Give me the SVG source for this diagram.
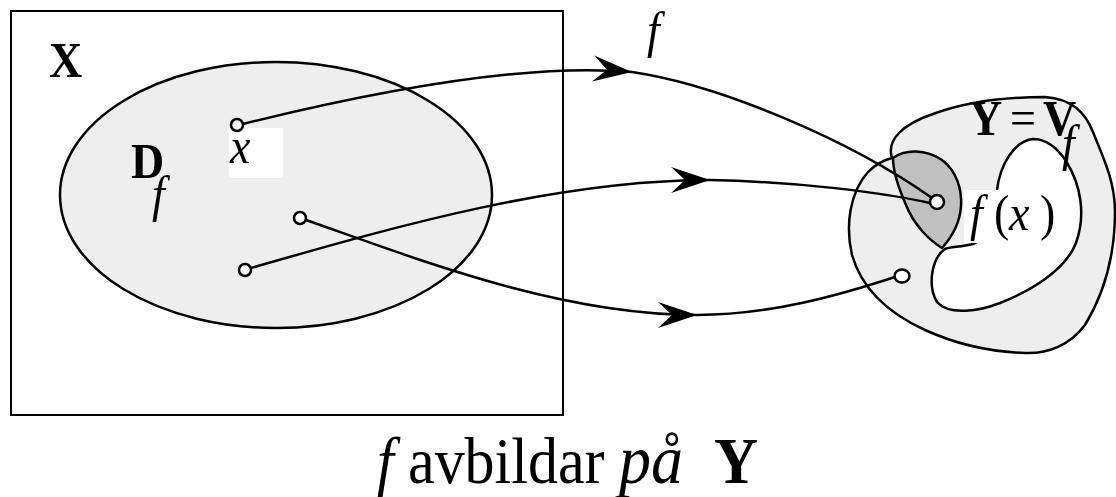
<svg xmlns="http://www.w3.org/2000/svg" width="1116" height="497" viewBox="0 0 1116 497">
<style>
.ln{fill:none;stroke:#000;stroke-width:2.5}
.pt{fill:#fff;stroke:#000;stroke-width:2.5}
.bd{font-family:"Liberation Serif",serif;font-weight:bold;font-size:46px}
.it{font-family:"Liberation Serif",serif;font-style:italic;font-size:46px}
.rm{font-family:"Liberation Serif",serif;font-size:46px}
.big{font-family:"Liberation Serif",serif;font-size:60px}
</style>
<defs>
<marker id="arr" markerUnits="userSpaceOnUse" markerWidth="50" markerHeight="30" refX="40" refY="15" orient="auto" viewBox="0 0 50 30">
<path d="M40,15 L1,2 L15,15 L1,28 Z" fill="#000"/>
</marker>
</defs>
<rect width="1116" height="497" fill="#fff"/>
<g id="setX">
<rect x="11" y="11" width="552" height="404" fill="none" stroke="#000" stroke-width="2"/>
<text class="bd" transform="translate(49,77) scale(1,1.1)">X</text>
</g>
<g id="domain">
<ellipse cx="276" cy="195" rx="216" ry="133" fill="#eeeeee" stroke="#000" stroke-width="2.5"/>
<text class="bd" transform="translate(131,178) scale(1,1.1)">D</text>
<text class="it" transform="translate(152,211) scale(1,1.1)">f</text>
<rect x="229" y="128" width="54" height="50" fill="#fff"/>
<text class="it" transform="translate(230,163) scale(1,1.1)">x</text>
</g>
<g id="setY">
<path d="M892,158 C 886,140 903,124 933,114 C 960,104 1000,97 1045,97 C 1072,99 1085,112 1093,132 C 1102,155 1115,180 1115,212 C 1115,252 1105,292 1085,325 C 1070,345 1048,354 1025,353 C 995,352 958,345 925,330 C 890,314 862,290 852,255 C 845,225 850,192 868,172 C 876,164 884,160 892,158 Z" fill="#eeeeee" stroke="#000" stroke-width="2.5"/>
<path d="M893,158 C 905,149 926,149 942,160 C 957,171 962,190 961,206 C 960,223 951,238 942,248 C 929,240 914,225 906,205 C 899,189 893,170 893,158 Z" fill="#c0c0c0" stroke="#000" stroke-width="2.5"/>
<path d="M945,249 C 932,258 927,285 937,302 C 949,316 980,311 1000,303 C 1030,291 1065,271 1076,243 C 1086,215 1081,185 1066,161 C 1056,146 1045,139 1033,139 C 1014,141 1000,165 997,190 C 990,220 985,240 973,244 C 960,247 950,247 945,249 Z" fill="#fff" stroke="#000" stroke-width="2.5"/>
<text class="bd" transform="translate(969,135) scale(1,1.1)">Y</text>
<text class="rm" transform="translate(1010,135) scale(1,1.1)">=</text>
<text class="bd" transform="translate(1043,135) scale(1,1.1)">V</text>
<text class="it" transform="translate(1062,160) scale(1,1.1)">f</text>
</g>
<g id="connectors">
<path class="ln" d="M243,124 C 360,95 520,62 632,72" marker-end="url(#arr)"/>
<path class="ln" d="M632,72 C 720,85 850,140 932,198"/>
<path class="ln" d="M251,268 C 400,225 560,180 710,180" marker-end="url(#arr)"/>
<path class="ln" d="M710,180 C 800,182 880,192 930,203"/>
<path class="ln" d="M306,220 C 420,260 560,315 697,315" marker-end="url(#arr)"/>
<path class="ln" d="M697,315 C 770,315 840,295 895,277"/>
<text class="it" transform="translate(647,47) scale(1,1.1)">f</text>
</g>
<g id="points">
<circle class="pt" cx="237" cy="125" r="6"/>
<circle class="pt" cx="300" cy="218" r="6"/>
<circle class="pt" cx="245" cy="270" r="6"/>
<ellipse class="pt" cx="937" cy="202" rx="7" ry="7"/>
<ellipse class="pt" cx="902" cy="276" rx="7.5" ry="6.5"/>
</g>
<g id="fxlabel">
<rect x="964" y="190" width="92" height="53" fill="#fff"/>
<text class="it" transform="translate(970,230) scale(1,1.1)">f</text>
<text class="rm" transform="translate(994,230) scale(1,1.1)">(</text>
<text class="it" transform="translate(1009,230) scale(1,1.1)">x</text>
<text class="rm" transform="translate(1040,230) scale(1,1.1)">)</text>
</g>
<g id="caption">
<text class="it" transform="translate(377,483) scale(1,1.08)" style="font-size:60px">f</text>
<text class="big" transform="translate(408,483) scale(1,1.08)">avbildar</text>
<text class="it" transform="translate(619,483) scale(1,1.08)" style="font-size:64px">på</text>
<text class="bd" transform="translate(714,483) scale(1,1.08)" style="font-size:61px">Y</text>
</g>
</svg>
